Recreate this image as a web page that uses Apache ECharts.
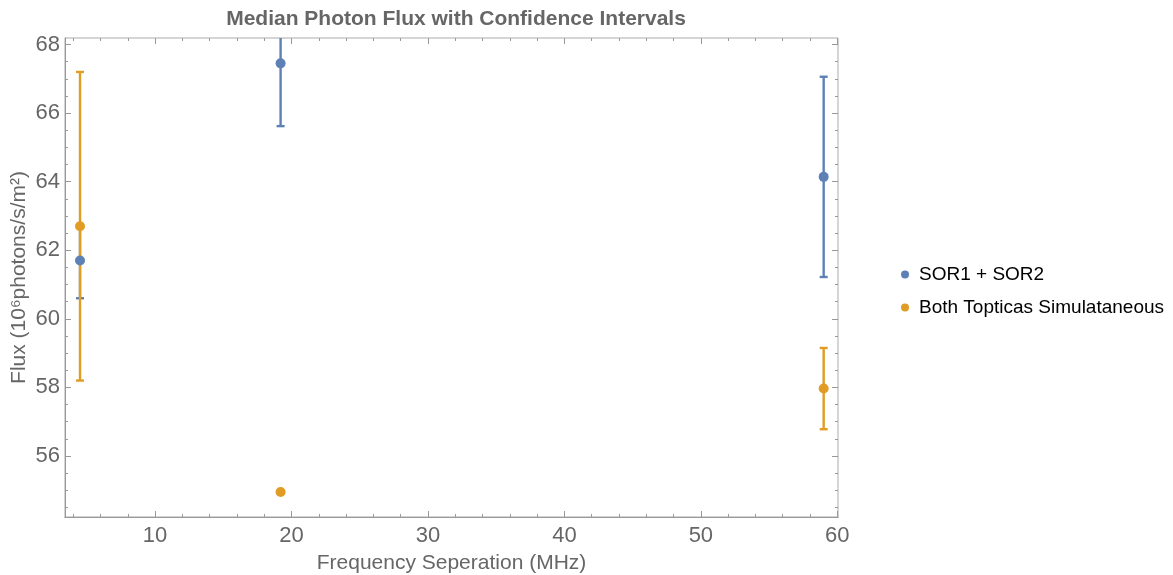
<!DOCTYPE html>
<html>
<head>
<meta charset="utf-8">
<script src="https://cdn.jsdelivr.net/npm/echarts@6/dist/echarts.min.js"></script>
<style>
  html, body { margin: 0; padding: 0; background: #fff; }
  #chart { width: 1173px; height: 575px; }
</style>
</head>
<body>
<div id="chart"></div>
<script>
// values
const sorX = [4.5, 19.2, 59.0];
const sorY = [61.7, 67.45, 64.14];
const sorLo = [60.6, 65.62, 61.22];
const sorHi = [62.7, 69.3, 67.06];

const topX = [4.5, 19.2, 59.0];
const topY = [62.7, 54.95, 57.97];
const topLo = [58.2, 54.95, 56.78];
const topHi = [67.2, 54.95, 59.15];

const xMajor = [10, 20, 30, 40, 50, 60];
const xMinor = [4, 6, 8, 12, 14, 16, 18, 22, 24, 26, 28, 32, 34, 36, 38, 42, 44, 46, 48, 52, 54, 56, 58];
const yMajor = [56, 58, 60, 62, 64, 66, 68];
const yMinor = [54.5, 55, 55.5, 56.5, 57, 57.5, 58.5, 59, 59.5, 60.5, 61, 61.5, 62.5, 63, 63.5,
  64.5, 65, 65.5, 66.5, 67, 67.5];

const BLUE = '#5e81b5';
const ORANGE = '#e19c24';
const FONT = 'Liberation Sans, Arial, sans-serif';

const chart = echarts.init(document.getElementById('chart'));

const pts = (xs, ys) => xs.map((x, i) => [x, ys[i]]);
const bars = (xs, lo, hi) => xs.map((x, i) => [x, lo[i], hi[i]]);

// vertical error bar with caps
const errorBar = color => (params, api) => {
    const x = api.value(0);
    const lo = api.coord([x, api.value(1)]);
    const hi = api.coord([x, api.value(2)]);
    const w = 4;
    const style = { stroke: color, lineWidth: 2.4 };
    return {
        type: 'group',
        children: [
            { type: 'line', shape: { x1: lo[0], y1: lo[1], x2: hi[0], y2: hi[1] }, style },
            { type: 'line', shape: { x1: lo[0] - w, y1: lo[1], x2: lo[0] + w, y2: lo[1] }, style },
            { type: 'line', shape: { x1: hi[0] - w, y1: hi[1], x2: hi[0] + w, y2: hi[1] }, style }
        ]
    };
};

const xAx = (pos, ticks, len, labels) => ({
    type: 'value', position: pos, min: 3.4, max: 60.05,
    axisLine: { show: pos === 'bottom', lineStyle: { color: '#999' } },
    splitLine: { show: false },
    axisTick: { show: true, inside: true, length: len, customValues: ticks, lineStyle: { color: '#999' } },
    axisLabel: labels ? { customValues: ticks, color: '#666', fontSize: 22, fontFamily: FONT, margin: 8 } : { show: false }
});
const yAx = (pos, ticks, len, labels) => ({
    type: 'value', position: pos, min: 54.22, max: 68.19,
    axisLine: { show: pos === 'left', lineStyle: { color: '#999' } },
    splitLine: { show: false },
    axisTick: { show: true, inside: true, length: len, customValues: ticks, lineStyle: { color: '#999' } },
    axisLabel: labels ? { customValues: ticks, color: '#666', fontSize: 22, fontFamily: FONT, margin: 5 } : { show: false }
});

const xAxes = [xAx('bottom', xMajor, 6, true), xAx('bottom', xMinor, 3), xAx('top', xMajor, 6), xAx('top', xMinor, 3)];
xAxes[0].name = 'Frequency Seperation (MHz)';
xAxes[0].nameLocation = 'middle';
xAxes[0].nameGap = 36;
xAxes[0].nameTextStyle = { color: '#666', fontSize: 21, fontFamily: FONT };

const yAxes = [yAx('left', yMajor, 6, true), yAx('left', yMinor, 3), yAx('right', yMajor, 6), yAx('right', yMinor, 3)];
yAxes[0].name = 'Flux (10⁶photons/s/m²)';
yAxes[0].nameLocation = 'middle';
yAxes[0].nameGap = 35;
yAxes[0].nameMoveOverlap = false;
yAxes[0].nameTextStyle = { color: '#666', fontSize: 21, fontFamily: FONT };

chart.setOption({
    animation: false,
    title: {
        text: 'Median Photon Flux with Confidence Intervals',
        left: 451, top: 4, textAlign: 'center',
        textStyle: { color: '#666', fontSize: 21, fontWeight: 'bold', fontFamily: FONT }
    },
    legend: {
        data: ['SOR1 + SOR2', 'Both Topticas Simulataneous'],
        orient: 'vertical',
        left: 896, top: 260,
        itemWidth: 8, itemHeight: 8, itemGap: 14,
        textStyle: { color: '#000', fontSize: 19, fontFamily: FONT, padding: [0, 0, 0, 5] }
    },
    grid: {
        left: 65, right: 335, top: 38, bottom: 58,
        containLabel: false, outerBoundsMode: 'none',
        show: true, borderColor: '#aaa', borderWidth: 1
    },
    xAxis: xAxes,
    yAxis: yAxes,
    series: [
        { name: 'sorErr', type: 'custom', clip: true, renderItem: errorBar(BLUE), data: bars(sorX, sorLo, sorHi), z: 2 },
        { name: 'topErr', type: 'custom', clip: true, renderItem: errorBar(ORANGE), data: bars(topX, topLo, topHi), z: 3 },
        { name: 'SOR1 + SOR2', type: 'scatter', symbolSize: 10, itemStyle: { color: BLUE, opacity: 1 },
          data: pts(sorX, sorY), z: 4 },
        { name: 'Both Topticas Simulataneous', type: 'scatter', symbolSize: 10, itemStyle: { color: ORANGE, opacity: 1 },
          data: pts(topX, topY), z: 5 }
    ]
});
</script>
</body>
</html>
